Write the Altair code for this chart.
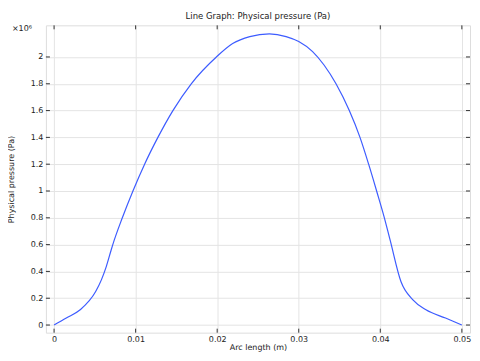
import altair as alt
import pandas as pd

# Arc length (m)
arc_length = [0.0, 0.0015, 0.0032, 0.0051, 0.0058, 0.0064, 0.0070, 0.0072,
              0.00837, 0.00967, 0.0111, 0.01273, 0.01457, 0.01682,
              0.0199, 0.0219, 0.0240, 0.0264, 0.02845, 0.0300, 0.0317,
              0.0331, 0.03457, 0.0362, 0.03751, 0.03857, 0.03955, 0.0405,
              0.0412, 0.04253, 0.0440, 0.0456, 0.0480, 0.0500]
# Physical pressure (x 1e6 Pa)
pressure = [0.0, 0.052, 0.114, 0.25, 0.337, 0.436, 0.56, 0.60,
            0.80, 1.0, 1.2, 1.4, 1.6, 1.8,
            2.0, 2.10, 2.152, 2.172, 2.152, 2.115, 2.04,
            1.94, 1.8, 1.6, 1.4, 1.2, 1.0, 0.8,
            0.635, 0.325, 0.188, 0.114, 0.052, 0.0]

x_ticks = [0, 0.01, 0.02, 0.03, 0.04, 0.05]
y_ticks = [0, 0.2, 0.4, 0.6, 0.8, 1.0, 1.2, 1.4, 1.6, 1.8, 2.0]

W, H = 425, 308
FONT = "DejaVu Sans"
TXT = "#222222"
FS = 8

df = pd.DataFrame({"x": arc_length, "y": pressure})
xt = pd.DataFrame({"x": x_ticks})
yt = pd.DataFrame({"y": y_ticks})

xs = alt.Scale(domain=[-0.001, 0.051], nice=False, zero=False)
ys = alt.Scale(domain=[-0.057, 2.236], nice=False, zero=False)

common = dict(grid=True, gridColor="#e4e4e4", tickSize=0, domain=False,
              labelFont=FONT, titleFont=FONT, labelFontSize=FS, titleFontSize=FS,
              labelColor=TXT, titleColor=TXT, titleFontWeight="normal",
              labelOverlap=False, format="~g")

x_axis = alt.Axis(title="Arc length (m)", values=x_ticks,
                  labelPadding=3, titlePadding=0, **common)
y_axis = alt.Axis(title="Physical pressure (Pa)", values=y_ticks,
                  labelPadding=3, titlePadding=15, **common)

X = alt.X("x:Q", scale=xs, axis=x_axis, title="Arc length (m)")
Y = alt.Y("y:Q", scale=ys, axis=y_axis, title="Physical pressure (Pa)")

line = alt.Chart(df).mark_line(color="#3d5cff", strokeWidth=1.2,
                               interpolate="monotone").encode(x=X, y=Y)

tick_len = 4
xb = alt.Chart(xt).mark_rule(color="#333333").encode(
    x=X, y=alt.value(H), y2=alt.value(H - tick_len))
xtop = alt.Chart(xt).mark_rule(color="#333333").encode(
    x=X, y=alt.value(0), y2=alt.value(tick_len))
yl = alt.Chart(yt).mark_rule(color="#333333").encode(
    y=Y, x=alt.value(0), x2=alt.value(tick_len))
yr = alt.Chart(yt).mark_rule(color="#333333").encode(
    y=Y, x=alt.value(W), x2=alt.value(W - tick_len))

exp = alt.Chart(pd.DataFrame({"s": ["×10⁶"]})).mark_text(
    font=FONT, fontSize=FS, align="right", baseline="middle", color=TXT
).encode(text="s:N", x=alt.value(-14), y=alt.value(4))

chart = alt.layer(line, xb, xtop, yl, yr, exp).properties(
    width=W, height=H,
    title=alt.Title("Line Graph: Physical pressure (Pa)", fontSize=8.5, fontWeight="normal",
                    font=FONT, color=TXT, offset=4),
    autosize=alt.AutoSizeParams(type="none"),
    padding={"left": 38, "top": 17, "right": 2, "bottom": 20},
).configure_view(stroke="#333333", strokeWidth=1.2).configure(background="white")

chart.save("out.html", embed_options={"renderer": "svg", "actions": False})
